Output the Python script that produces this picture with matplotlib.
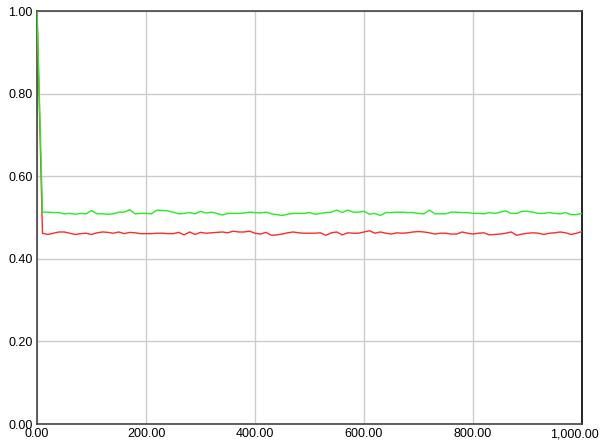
import matplotlib
matplotlib.use("Agg")
import matplotlib.pyplot as plt
import matplotlib.transforms as mtransforms
from matplotlib.ticker import FuncFormatter
import numpy as np

plt.rcParams['font.family'] = ['Liberation Sans', 'DejaVu Sans']

# sample positions (every 10 steps)
steps = np.arange(0, 1001, 10)

green = [1.000,
         0.513, 0.513, 0.512, 0.512, 0.509, 0.510, 0.508, 0.510, 0.509, 0.517,
         0.509, 0.509, 0.508, 0.509, 0.513, 0.513, 0.519, 0.509, 0.510, 0.510,
         0.509, 0.518, 0.517, 0.516, 0.513, 0.509, 0.510, 0.512, 0.509, 0.515,
         0.511, 0.513, 0.510, 0.506, 0.510, 0.510, 0.510, 0.511, 0.513, 0.512,
         0.511, 0.513, 0.509, 0.507, 0.505, 0.508, 0.510, 0.510, 0.510, 0.512,
         0.508, 0.510, 0.512, 0.513, 0.518, 0.512, 0.518, 0.513, 0.513, 0.515,
         0.508, 0.510, 0.505, 0.512, 0.512, 0.513, 0.513, 0.512, 0.512, 0.510,
         0.509, 0.518, 0.509, 0.509, 0.509, 0.513, 0.513, 0.512, 0.512, 0.510,
         0.510, 0.509, 0.512, 0.510, 0.513, 0.516, 0.510, 0.510, 0.515, 0.515,
         0.513, 0.510, 0.510, 0.512, 0.510, 0.509, 0.512, 0.507, 0.507, 0.510]

red = [1.000,
       0.462, 0.459, 0.462, 0.465, 0.465, 0.462, 0.459, 0.461, 0.462, 0.459,
       0.463, 0.465, 0.464, 0.462, 0.465, 0.461, 0.464, 0.463, 0.461, 0.461,
       0.461, 0.462, 0.462, 0.461, 0.461, 0.464, 0.458, 0.465, 0.459, 0.464,
       0.462, 0.463, 0.464, 0.465, 0.463, 0.467, 0.465, 0.465, 0.467, 0.462,
       0.460, 0.464, 0.457, 0.458, 0.460, 0.463, 0.465, 0.463, 0.462, 0.462,
       0.462, 0.463, 0.457, 0.463, 0.465, 0.458, 0.463, 0.462, 0.462, 0.465,
       0.468, 0.462, 0.465, 0.462, 0.460, 0.463, 0.462, 0.463, 0.465, 0.466,
       0.465, 0.463, 0.460, 0.462, 0.462, 0.460, 0.460, 0.465, 0.462, 0.460,
       0.462, 0.463, 0.458, 0.459, 0.460, 0.462, 0.465, 0.457, 0.460, 0.462,
       0.463, 0.462, 0.459, 0.462, 0.463, 0.465, 0.463, 0.459, 0.462, 0.466]

x_ticks = [0, 200, 400, 600, 800, 1000]
y_ticks = [0.0, 0.2, 0.4, 0.6, 0.8, 1.0]

fig = plt.figure(figsize=(6.04, 4.42), dpi=100)
ax = fig.add_axes([0.0613, 0.0407, 0.9023, 0.9343])

ax.plot(steps, red, color='#ff2a2a', linewidth=1.0, zorder=3)
ax.plot(steps, green, color='#22ee22', linewidth=1.0, zorder=3)

ax.set_xlim(0, 1000)
ax.set_ylim(0, 1)
ax.set_xticks(x_ticks)
ax.set_yticks(y_ticks)
ax.xaxis.set_major_formatter(FuncFormatter(lambda v, p: f"{v:,.2f}"))
ax.yaxis.set_major_formatter(FuncFormatter(lambda v, p: f"{v:.2f}"))
ax.tick_params(length=0, labelsize=9, pad=3)
ax.grid(True, color='#cccccc', linewidth=1)
ax.set_axisbelow(True)

for side in ['left', 'bottom', 'top']:
    ax.spines[side].set_color('#444444')
ax.spines['right'].set_color('black')
for s in ax.spines.values():
    s.set_linewidth(1.2)

# the last x label sits a bit to the left so it stays inside the figure
fig.canvas.draw()
last = ax.get_xticklabels()[-1]
last.set_transform(last.get_transform() +
                   mtransforms.ScaledTranslation(-8 / 100, 0, fig.dpi_scale_trans))

fig.savefig('out.png', dpi=100)
